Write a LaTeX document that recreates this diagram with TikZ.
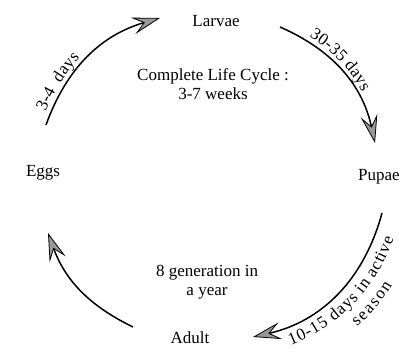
\documentclass[tikz,border=0pt]{standalone}
\usepackage{fontspec}
\setmainfont{Liberation Serif}
\usetikzlibrary{arrows.meta,decorations.text}

\newcommand\arclabelfont{\fontsize{17}{19}\selectfont}

\tikzset{
  stage/.style={font=\fontsize{17}{20}\selectfont, inner sep=1pt},
  note/.style={font=\fontsize{17}{19}\selectfont, align=center, inner sep=1pt},
  cyc/.style={line width=1.5pt,
    -{Stealth[length=28pt,width=17pt,inset=11pt,fill=black!40,line width=0.8pt]}}
}

\begin{document}
\begin{tikzpicture}[x=1pt,y=1pt]
  \useasboundingbox (0,0) rectangle (399,353);
  % stages
  \node[stage] (larvae) at (216,332) {Larvae};
  \node[stage, anchor=west] (pupae) at (357,176) {Pupae};
  \node[stage] (eggs) at (43,180) {Eggs};
  \node[stage] (adult) at (190,15) {Adult};
  \node[note] (cycle) at (213,269) {Complete Life Cycle :\\3-7 weeks};
  \node[note] (gen) at (207,71) {8 generation in\\a year};

  % arrow ends
  \coordinate (egg-a) at (46,228);   \coordinate (larva-b) at (160,335);
  \coordinate (larva-a) at (280,326); \coordinate (pupa-b) at (375,210);
  \coordinate (pupa-a) at (382,140);  \coordinate (adult-b) at (253,16);
  \coordinate (adult-a) at (133,26);  \coordinate (egg-b) at (48,120);

  \draw[cyc] (egg-a) to[bend left=27] (larva-b);
  \draw[cyc] (larva-a) to[bend left=27] (pupa-b);
  \draw[cyc] (pupa-a) to[bend left=31] (adult-b);
  \draw[cyc] (adult-a) to[bend left=22] (egg-b);

  % labels along the arcs
  \path[decorate, decoration={text along path, raise=5pt,
      text align={left indent=12pt}, text={|\arclabelfont|3-4 {\ }days}}]
    (egg-a) to[bend left=27] (larva-b);
  \path[decorate, decoration={text along path, raise=5pt,
      text align={left indent=30pt}, text={|\arclabelfont|30-35 days}}]
    (larva-a) to[bend left=27] (pupa-b);
  \path[decorate, decoration={text along path, raise=-19pt,
      text align={left indent=32pt}, text={|\arclabelfont|10-15 days in active}}]
    (adult-b) to[bend right=31] (pupa-a);
  \path[decorate, decoration={text along path, raise=-38pt,
      text align={left indent=88pt}, text={|\arclabelfont|season}}]
    (adult-b) to[bend right=31] (pupa-a);
\end{tikzpicture}
\end{document}
